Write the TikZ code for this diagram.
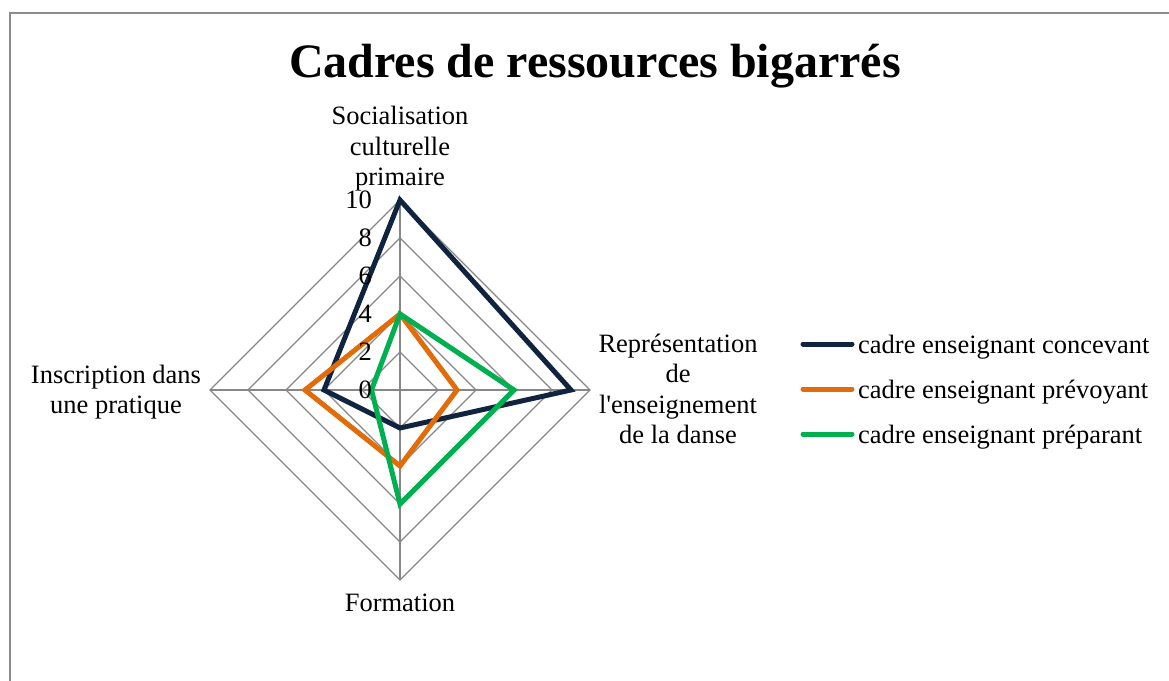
\documentclass[tikz,border=0pt]{standalone}
\usepackage{fontspec}
\setmainfont{Liberation Serif}
\definecolor{navyline}{HTML}{10243F}
\definecolor{orangeline}{HTML}{E36C0A}
\definecolor{greenline}{HTML}{00B050}
\definecolor{gridgray}{HTML}{878787}
\definecolor{framegray}{HTML}{8C8C8C}

\begin{document}
\begin{tikzpicture}[x=1pt,y=-1pt]

\tikzset{grid line/.style={draw=gridgray,line width=1.3pt},
         series line/.style={line width=5pt,line join=miter},
         every node/.style={inner sep=0pt,font=\fontsize{26.5}{30.5}\selectfont},
         axis label/.style={align=center},
         tick label/.style={anchor=east},
         legend label/.style={anchor=base west}}
\useasboundingbox (0,0) rectangle (1169,680);
\draw[framegray,line width=2pt] (10,700) -- (10,13) -- (1190,13);
\node[anchor=base,font=\bfseries\fontsize{48}{52}\selectfont] (title) at (595,77) {Cadres de ressources bigarrés};

\begin{scope}[shift={(400,390)}]
    \foreach \v in {2,4,...,10}
        \draw[grid line] (0,-19*\v) -- (19*\v,0) -- (0,19*\v) -- (-19*\v,0) -- cycle;
    \draw[grid line] (0,-190) -- (0,190) (-190,0) -- (190,0);
    \foreach \col/\a/\b/\c/\d in {navyline/10/9/2/4,orangeline/4/3/4/5,greenline/4/6/6/1.5}
        \draw[series line,draw=\col] (0,-19*\a) -- (19*\b,0) -- (0,19*\c) -- (-19*\d,0) -- cycle;
    \foreach \v in {0,2,...,10}
        \node[tick label] (tick\v) at (-28,-19*\v) {\v};
    \node[axis label] (socialisation) at (0,-241) {Socialisation\\culturelle\\primaire};
    \node[axis label] (representation) at (278,-1) {Représentation\\de\\l\textquotesingle enseignement\\de la danse};
    \node[anchor=base] (formation) at (0,221) {Formation};
    \node[axis label] (inscription) at (-284,2) {Inscription dans\\une pratique};
\end{scope}

\foreach \col/\txt/\y in {navyline/cadre enseignant concevant/344,
                          orangeline/cadre enseignant prévoyant/389,
                          greenline/cadre enseignant préparant/434}{
    \draw[series line,line cap=round,draw=\col] (803,\y) -- (852,\y);
    \node[legend label] (legend\y) at (858,\y+9) {\txt};
}
\end{tikzpicture}
\end{document}
